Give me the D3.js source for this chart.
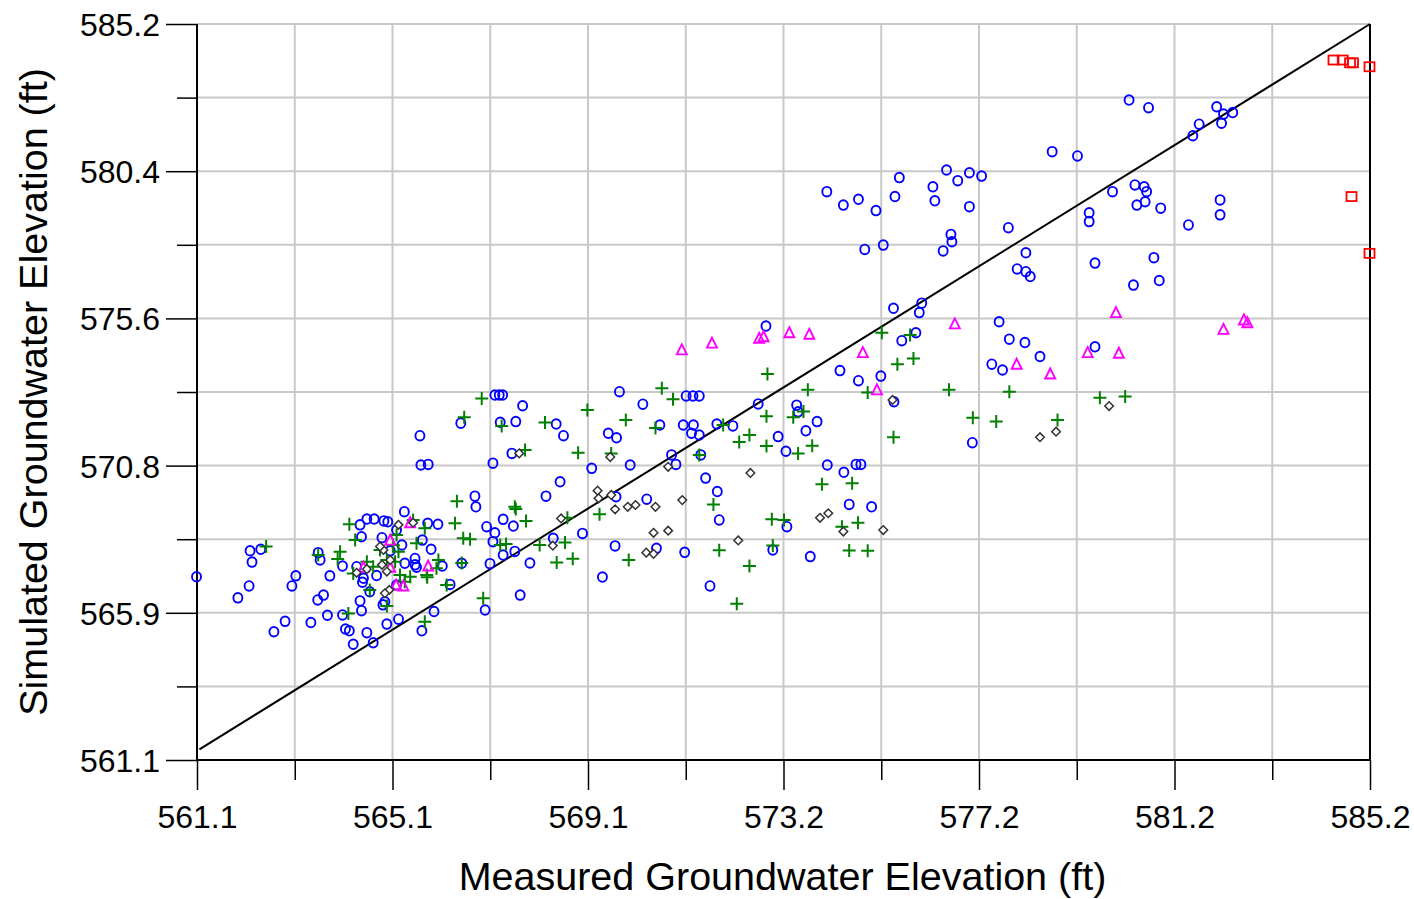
<!DOCTYPE html>
<html>
<head>
<meta charset="utf-8">
<script src="https://cdn.jsdelivr.net/npm/d3@7"></script>
<style>
  html, body { margin: 0; padding: 0; background: #ffffff; }
  svg { display: block; }
  text { font-family: "Liberation Sans", Arial, sans-serif; fill: #000; }
</style>
</head>
<body>
<svg id="chart" width="1414" height="899"></svg>
<script>
// ---------------- DATA ----------------
const axisMin = 561.1;
const axisMax = 585.2;
const xTickLabels = ["561.1", "565.1", "569.1", "573.2", "577.2", "581.2", "585.2"];
const yTickLabels = ["561.1", "565.9", "570.8", "575.6", "580.4", "585.2"];
const xTitle = "Measured Groundwater Elevation (ft)";
const yTitle = "Simulated Groundwater Elevation (ft)";
const oneToOne = [[561.15, 561.45], [585.2, 585.2]];

// [measured, simulated]
const blueCircles = [
[561.09,567.10],[562.19,567.95],[562.41,568.00],[562.23,567.58],[562.17,566.80],[561.94,566.41],[563.13,567.13],[563.05,566.80],[562.91,565.64],[562.68,565.30],
[563.44,565.60],[563.59,567.89],[563.63,567.65],[563.78,565.84],[564.09,565.85],[564.15,565.39],[564.23,565.33],[564.31,564.89],[564.48,565.99],[564.59,565.27],
[564.72,564.94],[565.00,565.55],[565.24,565.71],[565.72,565.33],[565.97,565.96],[565.36,569.23],[564.59,568.99],[564.74,568.99],[564.94,568.93],[565.02,568.90],
[564.45,568.80],[564.48,568.41],[564.90,568.38],[565.84,568.85],[566.05,568.82],[565.73,568.30],[565.91,568.00],[566.14,567.45],[565.58,567.70],[565.58,567.49],
[565.37,567.54],[565.31,568.14],[564.09,567.45],[563.83,567.13],[564.52,567.05],[564.50,566.92],[564.65,566.61],[565.20,566.83],[566.30,566.85],[566.54,567.54],
[563.70,566.50],[563.58,566.34],[564.45,566.31],[564.96,566.28],[564.92,566.18],[564.38,567.43],[564.79,567.14],[565.07,567.95],[565.20,568.63],[565.61,567.41],
[567.22,573.05],[567.31,573.05],[567.38,573.05],[567.79,572.70],[567.33,572.16],[567.65,572.18],[566.52,572.13],[565.68,571.72],[568.48,572.10],[568.63,571.72],
[567.57,571.14],[565.70,570.76],[565.85,570.78],[567.18,570.82],[568.56,570.21],[568.27,569.74],[566.81,569.74],[566.83,569.39],[569.78,573.16],[570.26,572.75],
[569.55,571.80],[569.72,571.65],[569.21,570.65],[570.00,570.76],[570.61,572.07],[571.09,572.07],[571.30,572.07],[571.42,571.74],[571.26,571.80],[571.15,573.02],
[571.29,573.02],[571.42,573.02],[570.85,571.09],[570.94,570.78],[571.45,571.09],[571.78,572.10],[572.11,572.04],[572.63,572.76],[573.04,571.69],[573.42,572.72],
[573.45,572.50],[573.20,571.21],[571.55,570.33],[571.79,569.89],[571.83,568.96],[569.71,569.72],[570.34,569.64],[569.02,568.52],[568.42,568.36],[567.39,568.98],
[567.60,568.76],[567.05,568.74],[567.22,568.54],[567.18,568.25],[567.63,567.93],[567.39,567.81],[567.12,567.53],[567.94,567.55],[569.69,568.11],[570.54,568.03],
[571.12,567.90],[569.43,567.09],[571.64,566.80],[567.74,566.50],[572.93,567.98],[573.70,567.76],[567.02,566.01],[572.79,575.31],[575.41,575.89],[575.99,576.06],
[575.94,575.75],[575.87,575.09],[575.58,574.83],[574.31,573.85],[574.69,573.52],[575.15,573.67],[575.42,572.83],[573.61,571.88],[573.84,572.18],[574.05,570.76],
[574.39,570.52],[574.64,570.78],[574.74,570.78],[574.50,569.47],[574.96,569.39],[573.22,568.74],[577.58,575.45],[577.79,574.88],[578.11,574.77],[578.42,574.31],
[577.43,574.06],[577.65,573.87],[577.03,571.49],[574.04,579.71],[574.38,579.27],[574.69,579.46],[575.05,579.09],[575.53,580.17],[575.44,579.55],[576.22,579.87],
[576.26,579.41],[576.50,580.42],[576.73,580.07],[576.97,580.33],[577.22,580.22],[576.97,579.22],[576.59,578.31],[576.61,578.07],[576.43,577.77],[577.77,578.53],
[574.82,577.82],[575.20,577.96],[578.13,577.71],[577.95,577.18],[578.13,577.09],[578.22,576.93],[578.67,581.02],[579.19,580.88],[579.43,579.02],[579.43,578.73],
[579.55,577.37],[580.25,582.71],[580.65,582.46],[582.05,582.49],[582.19,582.25],[582.38,582.30],[582.15,581.95],[581.69,581.92],[581.56,581.54],[580.37,579.93],
[580.56,579.87],[580.61,579.71],[579.91,579.71],[580.58,579.38],[580.41,579.27],[580.90,579.17],[582.12,579.44],[582.12,578.95],[581.47,578.62],[580.76,577.55],
[580.34,576.65],[580.87,576.80],[579.55,574.63]
];

const greenPlus = [
[562.52,568.09],[563.59,567.81],[564.04,567.92],[563.99,567.68],[564.23,568.82],[564.35,568.30],[564.31,567.21],[564.59,567.59],[564.86,567.98],[565.20,568.47],
[565.13,568.14],[565.24,567.92],[565.17,567.59],[565.27,567.16],[565.48,567.10],[565.37,566.94],[565.54,568.96],[565.61,568.20],[565.78,568.69],[566.06,567.65],
[566.02,567.38],[565.82,567.16],[566.23,566.83],[566.54,567.55],[566.44,569.57],[566.40,568.85],[566.57,568.36],[566.71,568.33],[564.72,567.43],[564.65,566.67],
[565.00,567.65],[566.98,566.40],[565.78,565.63],[564.21,565.90],[565.00,566.14],[565.83,567.08],[566.95,572.94],[566.59,572.32],[567.36,572.04],[568.25,572.15],
[567.84,571.25],[568.93,571.16],[567.63,569.39],[569.12,572.56],[570.65,573.27],[570.88,572.91],[569.91,572.23],[570.52,571.97],[569.61,571.14],[571.42,571.09],
[571.91,572.07],[572.82,573.74],[572.80,572.36],[572.24,571.51],[572.45,571.74],[572.80,571.38],[567.65,569.32],[567.86,568.93],[568.71,569.03],[569.37,569.15],
[567.33,568.14],[567.45,568.17],[568.14,568.14],[568.66,568.22],[568.49,567.57],[568.82,567.69],[569.97,567.65],[571.71,569.47],[571.83,567.97],[572.45,567.45],
[572.91,568.98],[572.93,568.12],[572.19,566.22],[574.50,567.96],[574.88,567.95],[575.17,575.09],[575.75,575.02],[575.49,574.06],[575.82,574.25],[573.65,573.22],
[574.88,573.13],[576.55,573.22],[577.79,573.16],[573.35,572.32],[573.56,572.51],[577.04,572.31],[577.52,572.18],[578.78,572.23],[575.41,571.67],[573.74,571.39],
[573.45,571.14],[573.94,570.13],[574.56,570.16],[573.16,568.96],[574.35,568.74],[574.68,568.87],[579.65,572.96],[580.17,573.00]
];

const magentaTriangles = [
[571.06,574.53],[571.68,574.75],[572.65,574.91],[572.74,574.96],[573.27,575.09],[573.68,575.04],[574.78,574.44],[575.07,573.22],[576.67,575.38],[577.94,574.06],
[578.63,573.74],[579.98,575.75],[579.40,574.44],[580.04,574.42],[582.19,575.20],[582.61,575.51],[582.68,575.42],[565.48,568.87],[565.07,568.30],[564.52,567.41],
[565.07,567.41],[565.85,567.45],[565.34,566.80],[565.19,566.83]
];

const blackDiamonds = [
[567.72,571.14],[569.59,571.02],[570.78,570.70],[572.47,570.50],[569.33,569.92],[569.35,569.67],[569.61,569.78],[569.69,569.31],[569.95,569.39],[570.11,569.45],
[570.52,569.39],[571.07,569.61],[568.58,569.01],[568.41,568.12],[570.48,568.54],[570.78,568.61],[570.33,567.89],[570.48,567.85],[572.22,568.29],[575.39,572.89],
[578.42,571.67],[578.75,571.85],[579.84,572.69],[573.90,569.03],[574.07,569.18],[574.38,568.58],[575.20,568.63],[564.38,567.23],[564.59,567.35],[564.90,567.49],
[565.00,567.27],[564.93,567.98],[564.86,568.09],[565.24,568.80],[565.54,568.87],[565.05,566.67],[564.96,566.56],[565.07,567.65]
];

const redSquares = [
[584.45,584.02],[584.64,584.02],[584.79,583.93],[584.85,583.93],[585.19,583.80],[584.82,579.55],[585.19,577.69]
];

// ---------------- LAYOUT ----------------
const svg = d3.select("#chart");
svg.append("rect").attr("width", 1414).attr("height", 899).attr("fill", "#fff");

const pLeft = 197, pRight = 1370, pTop = 24, pBottom = 760;
const x = d3.scaleLinear().domain([axisMin, axisMax]).range([pLeft, pRight]);
const y = d3.scaleLinear().domain([axisMin, axisMax]).range([pBottom, pTop]);

const xTicksAll = d3.range(13).map(i => axisMin + i * (axisMax - axisMin) / 12);
const yTicksAll = d3.range(11).map(i => axisMin + i * (axisMax - axisMin) / 10);
const xMajor = xTicksAll.filter((d, i) => i % 2 === 0);
const xMinor = xTicksAll.filter((d, i) => i % 2 === 1);
const yMajor = yTicksAll.filter((d, i) => i % 2 === 0);
const yMinor = yTicksAll.filter((d, i) => i % 2 === 1);

// grid
const grid = svg.append("g");
grid.selectAll("line.gx").data(xTicksAll).join("line")
  .attr("x1", d => x(d)).attr("x2", d => x(d))
  .attr("y1", pTop).attr("y2", pBottom)
  .attr("stroke", "#c8c8c8").attr("stroke-width", 2);
grid.selectAll("line.gy").data(yTicksAll).join("line")
  .attr("x1", pLeft).attr("x2", pRight)
  .attr("y1", d => y(d)).attr("y2", d => y(d))
  .attr("stroke", "#c8c8c8").attr("stroke-width", 2);

// axes (ticks)
const fontSize = 32;
const gxMinor = svg.append("g").attr("transform", `translate(0,${pBottom})`)
  .call(d3.axisBottom(x).tickValues(xMinor).tickSize(20).tickFormat(""));
const gxMajor = svg.append("g").attr("transform", `translate(0,${pBottom})`)
  .call(d3.axisBottom(x).tickValues(xMajor).tickSize(30).tickPadding(15)
    .tickFormat((d, i) => xTickLabels[i]));
const gyMinor = svg.append("g").attr("transform", `translate(${pLeft},0)`)
  .call(d3.axisLeft(y).tickValues(yMinor).tickSize(20).tickFormat(""));
const gyMajor = svg.append("g").attr("transform", `translate(${pLeft},0)`)
  .call(d3.axisLeft(y).tickValues(yMajor).tickSize(31).tickPadding(6)
    .tickFormat((d, i) => yTickLabels[i]));
[gxMinor, gxMajor, gyMinor, gyMajor].forEach(g => {
  g.select(".domain").remove();
  g.selectAll(".tick line").attr("stroke", "#000").attr("stroke-width", 1.5);
  g.selectAll("text").attr("font-size", fontSize)
    .attr("font-family", "'Liberation Sans', Arial, sans-serif").attr("fill", "#222");
});
gyMajor.selectAll("text").attr("dy", "0.36em");

// frame
svg.append("line").attr("x1", pLeft).attr("x2", pLeft).attr("y1", pTop).attr("y2", pBottom + 1)
  .attr("stroke", "#000").attr("stroke-width", 2);
svg.append("line").attr("x1", pLeft - 1).attr("x2", pRight).attr("y1", pBottom).attr("y2", pBottom)
  .attr("stroke", "#000").attr("stroke-width", 2);
svg.append("line").attr("x1", pRight).attr("x2", pRight).attr("y1", pTop).attr("y2", pBottom)
  .attr("stroke", "#000").attr("stroke-width", 2);

// titles
svg.append("text").attr("x", (pLeft + pRight) / 2 - 1).attr("y", 890)
  .attr("text-anchor", "middle").attr("font-size", 39.5).text(xTitle);
svg.append("text").attr("transform", `translate(47,${(pTop + pBottom) / 2}) rotate(-90)`)
  .attr("text-anchor", "middle").attr("font-size", 39.5).text(yTitle);

// 1:1 line
svg.append("line")
  .attr("x1", x(oneToOne[0][0])).attr("y1", y(oneToOne[0][1]))
  .attr("x2", x(oneToOne[1][0])).attr("y2", y(oneToOne[1][1]))
  .attr("stroke", "#000").attr("stroke-width", 2);

// markers
const pts = svg.append("g");
pts.selectAll("ellipse.b").data(blueCircles).join("ellipse")
  .attr("cx", d => x(d[0])).attr("cy", d => y(d[1])).attr("rx", 4.5).attr("ry", 4.8)
  .attr("fill", "none").attr("stroke", "#0000ff").attr("stroke-width", 1.9);

pts.selectAll("path.g").data(greenPlus).join("path")
  .attr("transform", d => `translate(${x(d[0])},${y(d[1])})`)
  .attr("d", "M-6.5,0H6.5M0,-6.5V6.5")
  .attr("fill", "none").attr("stroke", "#008000").attr("stroke-width", 2);

pts.selectAll("path.m").data(magentaTriangles).join("path")
  .attr("transform", d => `translate(${x(d[0])},${y(d[1])})`)
  .attr("d", "M0,-5.5L5,4.5H-5Z")
  .attr("fill", "none").attr("stroke", "#ff00ff").attr("stroke-width", 1.9);

pts.selectAll("path.d").data(blackDiamonds).join("path")
  .attr("transform", d => `translate(${x(d[0])},${y(d[1])})`)
  .attr("d", "M0,-4.3L4.3,0L0,4.3L-4.3,0Z")
  .attr("fill", "#fff").attr("stroke", "#333").attr("stroke-width", 1.5);

pts.selectAll("rect.r").data(redSquares).join("rect")
  .attr("x", d => x(d[0]) - 5).attr("y", d => y(d[1]) - 4.5)
  .attr("width", 10).attr("height", 9)
  .attr("fill", "none").attr("stroke", "#ff0000").attr("stroke-width", 1.8);
</script>
</body>
</html>
